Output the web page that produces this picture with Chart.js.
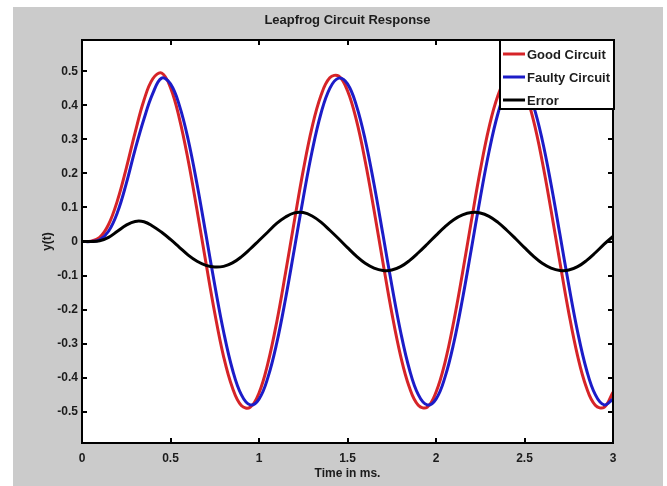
<!DOCTYPE html>
<html>
<head>
<meta charset="utf-8">
<script src="https://cdn.jsdelivr.net/npm/chart.js@4.4.1/dist/chart.umd.min.js"></script>
<style>
  html,body{margin:0;padding:0;background:#fff}
</style>
</head>
<body>
<canvas id="grafico" width="667" height="486"></canvas>
<script>
let tiempo=[0,0.05,0.1,0.15,0.2,0.25,0.3,0.35,0.4,0.45,0.5,0.55,0.6,0.65,0.7,0.75,0.8,0.85,0.9,0.95,
  1,1.05,1.1,1.15,1.2,1.25,1.3,1.35,1.4,1.45,1.5,1.55,1.6,1.65,1.7,1.75,1.8,1.85,1.9,1.95,
  2,2.05,2.1,2.15,2.2,2.25,2.3,2.35,2.4,2.45,2.5,2.55,2.6,2.65,2.7,2.75,2.8,2.85,2.9,2.95,3]
let buenCircuito=[0,0.001,0.012,0.05,0.12,0.215,0.32,0.415,0.478,0.495,0.452,0.362,0.238,0.092,-0.062,-0.21,-0.338,-0.43,-0.482,-0.487,
  -0.445,-0.358,-0.237,-0.092,0.061,0.209,0.336,0.429,0.481,0.486,0.443,0.357,0.236,0.092,-0.061,-0.209,-0.336,-0.429,-0.481,-0.487,
  -0.443,-0.357,-0.236,-0.092,0.061,0.209,0.336,0.429,0.481,0.486,0.443,0.357,0.236,0.092,-0.061,-0.209,-0.336,-0.429,-0.481,-0.487,-0.443]
let circuitoFalla=[0,0,0.005,0.03,0.085,0.17,0.27,0.36,0.435,0.48,0.463,0.4,0.299,0.168,0.021,-0.128,-0.265,-0.376,-0.45,-0.48,
  -0.463,-0.4,-0.299,-0.168,-0.021,0.128,0.265,0.376,0.45,0.48,0.463,0.4,0.299,0.168,0.021,-0.128,-0.265,-0.376,-0.45,-0.48,
  -0.463,-0.4,-0.299,-0.168,-0.021,0.128,0.265,0.376,0.45,0.48,0.463,0.4,0.299,0.168,0.021,-0.128,-0.265,-0.376,-0.45,-0.48,-0.463]
let errorCircuito=[0,0,0.002,0.012,0.03,0.048,0.059,0.058,0.045,0.027,0.006,-0.017,-0.04,-0.058,-0.07,-0.075,-0.073,-0.063,-0.045,-0.022,
  0.003,0.028,0.053,0.072,0.084,0.085,0.075,0.057,0.033,0.008,-0.018,-0.043,-0.064,-0.078,-0.085,-0.084,-0.074,-0.056,-0.033,-0.008,
  0.018,0.043,0.064,0.078,0.085,0.084,0.074,0.056,0.033,0.008,-0.018,-0.043,-0.064,-0.078,-0.085,-0.084,-0.074,-0.056,-0.033,-0.008,0.015]
let ticksX=[0,0.5,1,1.5,2,2.5,3]
let ticksY=[-0.5,-0.4,-0.3,-0.2,-0.1,0,0.1,0.2,0.3,0.4,0.5]

let fuente="'Liberation Sans', Arial, sans-serif"
let colorTexto="#1c1c1c"

function puntos(valores){
  return tiempo.map((t,k)=>({x:t,y:valores[k]}))
}

// fondo gris, marco, marcas hacia dentro, titulo y leyenda
const marco={
  id:'marco',
  beforeDraw(chart){
    const c=chart.ctx, a=chart.chartArea
    c.save()
    c.fillStyle='#cbcbcb'
    c.fillRect(13,7,650,479)
    c.fillStyle='#ffffff'
    c.fillRect(a.left,a.top,a.right-a.left,a.bottom-a.top)
    c.restore()
  },
  afterDatasetsDraw(chart){
    const c=chart.ctx, a=chart.chartArea
    const sx=chart.scales.x, sy=chart.scales.y
    c.save()
    c.strokeStyle='#000'
    c.lineWidth=2
    c.strokeRect(a.left,a.top,a.right-a.left,a.bottom-a.top)
    c.beginPath()
    ticksX.forEach(v=>{
      let px=Math.round(sx.getPixelForValue(v))
      c.moveTo(px,a.bottom); c.lineTo(px,a.bottom-5)
      c.moveTo(px,a.top); c.lineTo(px,a.top+5)
    })
    ticksY.forEach(v=>{
      let py=Math.round(sy.getPixelForValue(v))
      c.moveTo(a.left,py); c.lineTo(a.left+5,py)
      c.moveTo(a.right,py); c.lineTo(a.right-5,py)
    })
    c.stroke()

    // titulo
    c.fillStyle=colorTexto
    c.font="bold 13px "+fuente
    c.textAlign='center'
    c.textBaseline='middle'
    c.fillText('Leapfrog Circuit Response',(a.left+a.right)/2,20)

    // leyenda
    let lx=500, ly=40, lw=a.right+1-500, lh=69
    c.fillStyle='#fff'
    c.fillRect(lx,ly,lw,lh)
    c.strokeRect(lx,ly,lw,lh)
    c.textAlign='left'
    c.font="bold 13px "+fuente
    chart.data.datasets.forEach((ds,k)=>{
      let y=54+k*23
      c.strokeStyle=ds.borderColor
      c.lineWidth=3
      c.beginPath(); c.moveTo(503,y); c.lineTo(525,y); c.stroke()
      c.fillStyle=colorTexto
      c.fillText(ds.label,527,y+1)
    })
    c.restore()
  }
}

const config={
  type:'line',
  data:{
    datasets:[
      {label:'Good Circuit',data:puntos(buenCircuito),borderColor:'rgb(214,36,40)',borderWidth:3,pointRadius:0,tension:0.4,order:3},
      {label:'Faulty Circuit',data:puntos(circuitoFalla),borderColor:'rgb(28,28,200)',borderWidth:3,pointRadius:0,tension:0.4,order:2},
      {label:'Error',data:puntos(errorCircuito),borderColor:'rgb(0,0,0)',borderWidth:3,pointRadius:0,tension:0.4,order:1}
    ]
  },
  options:{
    responsive:false,
    animation:false,
    devicePixelRatio:1,
    layout:{padding:{left:0,right:54,top:40,bottom:0}},
    plugins:{legend:{display:false},title:{display:false},tooltip:{enabled:false}},
    scales:{
      x:{
        type:'linear',min:0,max:3,
        afterBuildTicks:s=>{s.ticks=ticksX.map(v=>({value:v}))},
        afterFit:s=>{s.height=43},
        grid:{display:false,drawTicks:false},
        border:{display:false},
        ticks:{padding:8,color:colorTexto,font:{family:fuente,size:12,weight:'bold'},maxRotation:0,autoSkip:false,callback:v=>String(v)},
        title:{display:true,text:'Time in ms.',color:colorTexto,font:{family:fuente,size:12,weight:'bold'},padding:{top:0,bottom:5}}
      },
      y:{
        type:'linear',min:-0.592,max:0.592,
        afterBuildTicks:s=>{s.ticks=ticksY.map(v=>({value:v}))},
        afterFit:s=>{s.width=82},
        grid:{display:false,drawTicks:false},
        border:{display:false},
        ticks:{padding:4,color:colorTexto,font:{family:fuente,size:12,weight:'bold'},autoSkip:false,callback:v=>String(v)},
        title:{display:true,text:'y(t)',color:colorTexto,font:{family:fuente,size:12,weight:'bold'},padding:{top:40,bottom:0}}
      }
    }
  },
  plugins:[marco]
}

const myChart=new Chart(document.getElementById('grafico'),config)
</script>
</body>
</html>
